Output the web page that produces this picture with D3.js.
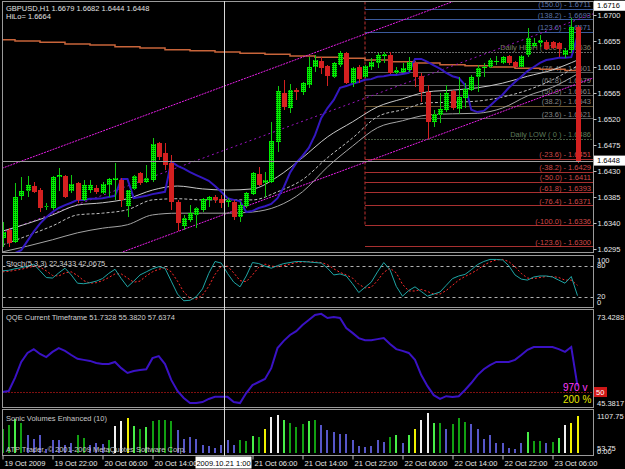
<!DOCTYPE html>
<html>
<head>
<meta charset="utf-8">
<script src="https://cdn.jsdelivr.net/npm/d3@7"></script>
<style>
html, body { margin: 0; padding: 0; background: #000; }
svg { display: block; }
</style>
</head>
<body>
<svg id="chart" width="625" height="469"></svg>
<script>
// GBPUSD H1, 19 Oct 14:00 -> 23 Oct 10:00 (93 bars)
const opens = [1.6314,1.6328,1.6307,1.6387,1.6395,1.6404,1.6397,1.6368,1.6366,1.6420,
  1.6421,1.6395,1.6409,1.6380,1.6397,1.6401,1.6392,1.6406,1.6415,1.6415,
  1.6369,1.6399,1.6427,1.6411,1.6415,1.6479,1.6461,1.6444,1.6376,1.6335,
  1.6345,1.6354,1.6363,1.6380,1.6385,1.6382,1.6376,1.6376,1.6350,1.6369,
  1.6390,1.6425,1.6409,1.6411,1.6480,1.6565,1.6539,1.6570,1.6567,1.6579,
  1.6610,1.6620,1.6612,1.6593,1.6613,1.6634,1.6582,1.6610,1.6593,1.6610,
  1.6617,1.6629,1.6631,1.6600,1.6601,1.6605,1.6617,1.6594,1.6567,1.6515,
  1.6527,1.6536,1.6568,1.6537,1.6556,1.6570,1.6593,1.6608,1.6610,1.6619,
  1.6617,1.6629,1.6619,1.6610,1.6631,1.6646,1.6652,1.6653,1.6653,1.6652,
  1.6631,1.6639,1.6679];
const highs = [1.6342,1.6331,1.6409,1.6420,1.6421,1.6411,1.6401,1.6375,1.6421,1.6435,
  1.6423,1.6423,1.6411,1.6415,1.6415,1.6406,1.6411,1.6418,1.6444,1.6418,
  1.6397,1.6423,1.6428,1.6440,1.6487,1.6480,1.6479,1.6458,1.6380,1.6354,
  1.6371,1.6368,1.6383,1.6387,1.6388,1.6388,1.6383,1.6380,1.6376,1.6394,
  1.6428,1.6437,1.6428,1.6515,1.6577,1.6588,1.6581,1.6574,1.6584,1.6627,
  1.6631,1.6627,1.6613,1.6619,1.6638,1.6636,1.6610,1.6613,1.6613,1.6626,
  1.6634,1.6636,1.6636,1.6610,1.6617,1.6627,1.6619,1.6600,1.6579,1.6536,
  1.6565,1.6579,1.6570,1.6593,1.6582,1.6596,1.6613,1.6617,1.6626,1.6629,
  1.6629,1.6631,1.6620,1.6631,1.6678,1.6660,1.6665,1.6657,1.6655,1.6653,
  1.6643,1.6695,1.6682];
const lows = [1.6299,1.6299,1.6305,1.6380,1.6385,1.6392,1.6359,1.6363,1.6363,1.6395,
  1.6383,1.6392,1.6375,1.6378,1.6392,1.6390,1.6390,1.6385,1.6380,1.6368,
  1.6350,1.6397,1.6406,1.6409,1.6411,1.6449,1.6432,1.6363,1.6326,1.6328,
  1.6342,1.6331,1.6359,1.6368,1.6375,1.6366,1.6368,1.6345,1.6342,1.6366,
  1.6388,1.6404,1.6385,1.6409,1.6463,1.6536,1.6530,1.6553,1.6562,1.6574,
  1.6601,1.6598,1.6577,1.6591,1.6610,1.6581,1.6575,1.6582,1.6591,1.6605,
  1.6608,1.6617,1.6598,1.6598,1.6600,1.6601,1.6575,1.6549,1.6486,1.6506,
  1.6513,1.6532,1.6536,1.6529,1.6539,1.6568,1.6567,1.6593,1.6608,1.6613,
  1.6615,1.6613,1.6610,1.6610,1.6627,1.6645,1.6645,1.6639,1.6641,1.6627,
  1.6626,1.6634,1.6444];
const closes = [1.6325,1.6305,1.6385,1.6395,1.6406,1.6394,1.6366,1.6369,1.6420,1.6423,
  1.6385,1.6408,1.6380,1.6406,1.6406,1.6394,1.6408,1.6416,1.6418,1.6380,
  1.6397,1.6421,1.6409,1.6418,1.6477,1.6454,1.6440,1.6376,1.6340,1.6349,
  1.6357,1.6366,1.6382,1.6385,1.6380,1.6375,1.6380,1.6350,1.6371,1.6392,
  1.6427,1.6406,1.6415,1.6482,1.6568,1.6541,1.6570,1.6567,1.6582,1.6610,
  1.6622,1.6608,1.6594,1.6617,1.6634,1.6582,1.6608,1.6589,1.6612,1.6619,
  1.6631,1.6633,1.6600,1.6605,1.6608,1.6619,1.6593,1.6567,1.6515,1.6529,
  1.6537,1.6565,1.6539,1.6558,1.6572,1.6593,1.6608,1.6610,1.6622,1.6620,
  1.6627,1.6617,1.6610,1.6629,1.6660,1.6652,1.6657,1.6641,1.6643,1.6641,
  1.6639,1.6679,1.6448];

// HiLo line (blue)
const hilo = [1.6267,1.6276,1.6288,1.6293,1.6309,1.6325,1.6339,1.6350,1.6359,1.6366,
  1.6371,1.6375,1.6380,1.6380,1.6382,1.6382,1.6383,1.6385,1.6387,1.6416,
  1.6416,1.6383,1.6385,1.6387,1.6390,1.6392,1.6394,1.6446,1.6439,1.6434,
  1.6428,1.6423,1.6418,1.6413,1.6404,1.6394,1.6383,1.6380,1.6378,1.6359,
  1.6361,1.6366,1.6369,1.6373,1.6383,1.6402,1.6427,1.6444,1.6456,1.6470,
  1.6492,1.6522,1.6539,1.6553,1.6574,1.6577,1.6581,1.6584,1.6588,1.6589,
  1.6593,1.6594,1.6596,1.6596,1.6598,1.6600,1.6624,1.6624,1.6619,1.6613,
  1.6607,1.6600,1.6594,1.6591,1.6579,1.6536,1.6532,1.6534,1.6543,1.6553,
  1.6562,1.6574,1.6584,1.6593,1.6603,1.6610,1.6617,1.6622,1.6624,1.6626,
  1.6626,1.6627,1.6664];

// envelopes and slow orange line, read every 4 bars
const envIdx = [0,4,8,12,16,20,24,28,32,36,40,44,48,52,56,60,64,68,72,76,80,84,88,92];
const envUpper = [1.6326,1.6339,1.6354,1.6371,1.6375,1.6382,1.6397,1.6404,1.6399,1.6397,1.6399,1.6420,
  1.6453,1.6489,1.6515,1.6541,1.6555,1.6567,1.6570,1.6574,1.6582,1.6594,1.6605,1.6622];
const envMid = [1.6302,1.6318,1.6335,1.6354,1.6357,1.6363,1.6380,1.6382,1.6380,1.6380,1.6380,1.6394,
  1.6415,1.6453,1.6487,1.6524,1.6536,1.6548,1.6549,1.6551,1.6558,1.6570,1.6588,1.6612];
const envLower = [1.6290,1.6300,1.6311,1.6323,1.6331,1.6337,1.6354,1.6357,1.6357,1.6357,1.6359,1.6369,
  1.6394,1.6437,1.6473,1.6505,1.6517,1.6527,1.6529,1.6530,1.6539,1.6560,1.6575,1.6598];
const slowLine = [1.6657,1.6655,1.6653,1.6650,1.6648,1.6645,1.6643,1.6640,1.6638,1.6636,1.6634,1.6632,
  1.6629,1.6627,1.6625,1.6622,1.6619,1.6617,1.6614,1.6612,1.6610,1.6608,1.6606,1.6604];

// regression channel
const chanIdx = [0, 92];
const chanMid = [1.6324, 1.6692];
const chanHalf = 0.0111;

// daily fibonacci levels (drawn from 22 Oct 00:00)
const fibStart = 58;
const fibNames = ["(150.0)","(138.2)","(123.6)","Daily HIGH ( 100 )","(76.4)","(61.8)","(50.0)","(38.2)","(23.6)",
  "Daily LOW ( 0 )","(-23.6)","(-38.2)","(-50.0)","(-61.8)","(-76.4)","(-100.0)","(-123.6)","(-138.2)"];
const fibPrices = [1.6711,1.6693,1.6671,1.6636,1.6601,1.6579,1.6561,1.6543,1.6521,
  1.6486,1.6451,1.6429,1.6411,1.6393,1.6371,1.6336,1.6300,1.6279];
const fibKinds = ["ext","ext","ext","hi","pos","pos","pos","pos2","pos","lo","neg","neg","neg","neg","neg","neg","neg","neg"];

// Stochastic (5,3,3)
const stochK = [70,71,74,76,79,83,70,57,56,66,75,62,46,45,47,50,55,65,73,55,
  39,50,62,68,74,78,75,50,25,12,13,20,35,65,88,85,65,48,39,60,
  86,84,79,75,80,84,86,88,88,87,86,85,75,62,64,60,45,28,38,48,
  68,86,72,40,21,32,39,30,21,25,29,42,55,60,63,72,82,88,92,92,
  91,80,62,54,52,58,60,60,58,52,46,59,22];
const stochD = [68,69,71,73,76,79,77,70,61,60,66,68,61,51,46,47,51,57,64,64,
  56,48,50,60,68,73,76,68,50,29,17,15,23,40,63,79,79,66,51,49,
  62,77,83,79,78,80,83,86,87,88,87,86,82,74,67,62,56,44,37,38,
  51,67,75,66,44,31,31,34,30,25,25,32,42,52,59,65,72,81,87,91,
  92,88,78,65,56,55,57,59,59,57,52,52,42];
const stochLevels = [80, 20];
const stochLabels = [100, 80, 20, 0];

// QQE
const qqe = [50.0,50.3,54.1,58.7,61.3,62.4,61.0,60.1,61.6,62.7,61.9,60.7,59.6,59.3,59.0,58.4,58.1,58.1,58.7,56.9,
  55.5,56.1,56.4,56.6,59.8,60.4,58.1,53.5,50.3,48.3,46.8,46.8,47.1,48.0,48.6,48.6,48.6,47.1,46.8,49.7,
  52.0,52.9,53.8,56.9,62.7,64.8,66.5,67.6,69.4,70.8,72.3,72.6,71.4,71.7,71.4,68.5,67.1,65.6,65.0,65.0,
  65.3,65.6,63.9,62.4,61.9,61.3,59.3,54.9,51.7,49.1,48.0,48.8,48.6,48.8,50.6,52.6,54.9,56.6,57.8,58.7,
  58.7,58.7,59.3,60.7,62.2,63.0,63.0,63.0,63.0,62.4,61.6,63.0,51.7];
const qqeRange = [45.3817, 73.4288];
const qqeLevel = 50;

// Sonic volumes
const volumes = [620,735,886,779,469,381,469,115,337,337,204,266,469,407,204,266,248,354,708,850,
  912,708,620,691,841,868,868,841,602,381,425,381,204,177,142,204,337,204,354,319,
  443,425,620,956,1001,868,779,691,762,850,868,735,602,558,496,496,337,186,159,177,
  337,292,425,469,266,469,629,868,1063,779,779,620,762,912,824,753,646,381,469,266,
  266,142,115,266,558,319,319,266,292,407,735,797,974];
const volKinds = "ggGgbbbbbbbbggbbbgwwyGgGggggbbbbbbbbbbggGgywwGgggGgbbbbbbbbbbbgGbGywwGgbgggbbbbbbbbbGggbgGwyy";
const volMax = 1107.75;

const priceTicks = [1.6700,1.6655,1.6610,1.6565,1.6520,1.6475,1.6430,1.6385,1.6340,1.6295];
// 20 Oct 22:00 sits under the crosshair date box, so it is not listed
const timeIdx = [0,8,16,24,40,48,56,64,72,80,88];
const timeLabels = ["19 Oct 2009","19 Oct 22:00","20 Oct 06:00","20 Oct 14:00","21 Oct 06:00",
  "21 Oct 14:00","21 Oct 22:00","22 Oct 06:00","22 Oct 14:00","22 Oct 22:00","23 Oct 06:00"];
const crossIdx = 35.5, crossLabel = "2009.10.21 1:00";
const bid = 1.6448, markPrice = 1.6716;

const FONT = "'Liberation Sans', Arial, sans-serif";
const FS = 7.5;
const plotL = 2.5, plotR = 593.5;
const panels = [{top: 1.5, bot: 252.5}, {top: 255.5, bot: 307.5}, {top: 309.5, bot: 407.5}, {top: 409.5, bot: 455.5}];

// scales
const x = d3.scaleLinear().domain([0, 92]).range([2.5, 577.5]);
const yP = d3.scaleLinear().domain([1.6295, 1.6700]).range([249, 15]);
const yS = d3.scaleLinear().domain([0, 100]).range([307, 255.3]);
const yQ = d3.scaleLinear().domain(qqeRange).range([408, 311]);
const yV = d3.scaleLinear().domain([0, volMax]).range([453, 411]);

const svg = d3.select("#chart");
svg.append("rect").attr("width", 625).attr("height", 469).attr("fill", "#000");
const defs = svg.append("defs");
panels.forEach((p, k) => {
  defs.append("clipPath").attr("id", "clip" + k).append("rect")
    .attr("x", plotL).attr("y", p.top).attr("width", plotR - plotL).attr("height", p.bot - p.top);
});
const pat = defs.append("pattern").attr("id", "gdots").attr("width", 2).attr("height", 2)
  .attr("patternUnits", "userSpaceOnUse");
pat.append("rect").attr("width", 2).attr("height", 2).attr("fill", "#00f000");
pat.append("rect").attr("width", 1).attr("height", 1).attr("fill", "#005000");

function label(sel, tx, ty, txt, color, size) {
  return sel.append("text").attr("x", tx).attr("y", ty)
    .attr("font-family", FONT).attr("font-size", size || FS)
    .attr("fill", color).text(txt);
}

// ---------- main panel ----------
const gm = svg.append("g").attr("clip-path", "url(#clip0)");

const fibLine = {ext: "#3b5a9c", hi: "#6a6a6a", pos: "#5e5e5e", pos2: "#6a5632", lo: "#44583f", neg: "#a83030"};
const fibText = {ext: "#5c74aa", hi: "#7c7c62", pos: "#858585", pos2: "#858585", lo: "#5e7a5a", neg: "#d04848"};

gm.append("line")
  .attr("x1", x(fibStart)).attr("x2", x(fibStart))
  .attr("y1", panels[0].top).attr("y2", yP(fibPrices[15]))
  .attr("stroke", "#c03030").attr("stroke-dasharray", "3,2");

gm.selectAll(".fib").data(fibPrices).join("line")
  .attr("x1", x(fibStart)).attr("x2", plotR)
  .attr("y1", d => Math.round(yP(d)) + 0.5).attr("y2", d => Math.round(yP(d)) + 0.5)
  .attr("stroke", (d, k) => fibLine[fibKinds[k]])
  .attr("stroke-dasharray", (d, k) => (fibKinds[k] === "hi" || fibKinds[k] === "lo") ? "2,1" : null);

gm.selectAll(".fibt").data(fibPrices).join("text")
  .attr("x", 591).attr("y", d => yP(d) - 1.5)
  .attr("text-anchor", "end").attr("font-family", FONT).attr("font-size", FS)
  .attr("fill", (d, k) => fibText[fibKinds[k]])
  .text((d, k) => fibNames[k] + " - " + d.toFixed(4));

// slow orange line
gm.append("path")
  .datum(envIdx.map((d, k) => [d, slowLine[k]]).concat([[94.5, slowLine[slowLine.length - 1]]]))
  .attr("fill", "none").attr("stroke", "#c8643a").attr("stroke-width", 1.5)
  .attr("d", d3.line().x(d => x(d[0] - 2)).y(d => yP(d[1])).curve(d3.curveStepAfter));

// regression channel
const chan = d3.scaleLinear().domain(chanIdx).range(chanMid);
[[chanHalf, "#e81ee8", "2,1"], [0, "#9a14c0", "2,3"], [-chanHalf, "#e81ee8", "2,1"]].forEach(c => {
  gm.append("line")
    .attr("x1", x(-1)).attr("y1", yP(chan(-1) + c[0]))
    .attr("x2", x(95)).attr("y2", yP(chan(95) + c[0]))
    .attr("stroke", c[1]).attr("stroke-dasharray", c[2]);
});

// envelopes
[[envUpper, "#c8c8c8", null], [envMid, "#c0c0c0", "3,2"], [envLower, "#a4a4a4", null]].forEach(e => {
  gm.append("path")
    .datum(envIdx.map((d, k) => [d, e[0][k]]))
    .attr("fill", "none").attr("stroke", e[1]).attr("stroke-dasharray", e[2])
    .attr("d", d3.line().x(d => x(d[0])).y(d => yP(d[1])).curve(d3.curveMonotoneX));
});

// HiLo line
gm.append("path")
  .datum(hilo)
  .attr("fill", "none").attr("stroke", "#3418c0").attr("stroke-width", 2)
  .attr("d", d3.line().x((d, i) => x(i)).y(d => yP(d)));

// candles
const bars = d3.range(opens.length).map(i => ({i, o: opens[i], h: highs[i], l: lows[i], c: closes[i]}));
const cg = gm.append("g").attr("shape-rendering", "crispEdges");
cg.selectAll(".wick").data(bars).join("line")
  .attr("x1", d => Math.round(x(d.i)) + 0.5).attr("x2", d => Math.round(x(d.i)) + 0.5)
  .attr("y1", d => yP(d.h)).attr("y2", d => yP(d.l))
  .attr("stroke", d => d.c >= d.o ? "#10c810" : "#d42020");
cg.selectAll(".body").data(bars).join("rect")
  .attr("x", d => Math.round(x(d.i)) - 2).attr("width", 5)
  .attr("y", d => yP(Math.max(d.o, d.c)))
  .attr("height", d => Math.max(1, Math.abs(yP(d.o) - yP(d.c))))
  .attr("fill", d => d.c >= d.o ? "url(#gdots)" : "#d42020");

// bid line
gm.append("line").attr("x1", plotL).attr("x2", plotR)
  .attr("y1", Math.round(yP(bid)) + 0.5).attr("y2", Math.round(yP(bid)) + 0.5)
  .attr("stroke", "#a0a0a0");

label(svg, 6, 10.5, "GBPUSD,H1  " + [opens[92], highs[92], lows[92], closes[92]].map(d => d.toFixed(4)).join(" "), "#e0e0e0");
label(svg, 6, 18.5, "HiLo= " + hilo[92].toFixed(4), "#e0e0e0");

// ---------- stochastic ----------
const gs = svg.append("g").attr("clip-path", "url(#clip1)");
gs.selectAll(".lvl").data(stochLevels).join("line")
  .attr("x1", plotL).attr("x2", plotR)
  .attr("y1", d => Math.round(yS(d)) + 0.5).attr("y2", d => Math.round(yS(d)) + 0.5)
  .attr("stroke", "#b0b0b0").attr("stroke-dasharray", "3,3");
gs.append("path").datum(stochD)
  .attr("fill", "none").attr("stroke", "#ff2a2a").attr("stroke-dasharray", "2,2")
  .attr("d", d3.line().x((d, i) => x(i)).y(d => yS(d)));
gs.append("path").datum(stochK)
  .attr("fill", "none").attr("stroke", "#1fa5a5")
  .attr("d", d3.line().x((d, i) => x(i)).y(d => yS(d)));
label(svg, 6, 265.5, "Stoch(5,3,3) 22.3433 42.0675", "#d0d0d0");

// ---------- QQE ----------
const gq = svg.append("g").attr("clip-path", "url(#clip2)");
gq.append("line").attr("x1", plotL).attr("x2", plotR)
  .attr("y1", Math.round(yQ(qqeLevel)) + 0.5).attr("y2", Math.round(yQ(qqeLevel)) + 0.5)
  .attr("stroke", "#ff2020").attr("stroke-dasharray", "1,2");
gq.append("path").datum(qqe)
  .attr("fill", "none").attr("stroke", "#3a12c4").attr("stroke-width", 2)
  .attr("d", d3.line().x((d, i) => x(i)).y(d => yQ(d)));
label(svg, 6, 319.5, "QQE Current Timeframe 51.7328 55.3820 57.6374", "#d0d0d0");
label(svg, 563, 391, "970 v", "#ff3cff", 10);
label(svg, 563, 402.5, "200 %", "#e6e600", 10);

// ---------- volumes ----------
const volColor = {g: "#12a012", G: "#48ee48", b: "#5656c8", w: "#f0f0f0", y: "#f0f000"};
const gv = svg.append("g").attr("clip-path", "url(#clip3)").attr("shape-rendering", "crispEdges");
gv.selectAll("rect").data(volumes).join("rect")
  .attr("x", (d, i) => Math.round(x(i)) - 1).attr("width", 2)
  .attr("y", d => yV(d)).attr("height", d => yV(0) - yV(d))
  .attr("fill", (d, i) => volColor[volKinds[i]]);
label(svg, 6, 420.5, "Sonic Volumes Enhanced  (10)", "#c8c8c8");
label(svg, 6, 451.5, "ATP Trader, \u00a9 2001-2009 MetaQuotes Software Corp.", "#c8c8c8");

// ---------- frames ----------
svg.append("g").selectAll("rect").data(panels).join("rect")
  .attr("x", plotL).attr("y", d => d.top).attr("width", plotR - plotL).attr("height", d => d.bot - d.top)
  .attr("fill", "none").attr("stroke", "#9a9a9a");

// ---------- right axes ----------
function styleAxis(g) {
  g.attr("font-family", FONT).attr("font-size", FS);
  g.select(".domain").remove();
  g.selectAll("line").attr("stroke", "#c0c0c0");
  g.selectAll("text").attr("fill", "#e8e8e8");
}
svg.append("g").attr("transform", "translate(" + plotR + ",0)")
  .call(d3.axisRight(yP).tickValues(priceTicks).tickFormat(d3.format(".4f")).tickSize(3).tickPadding(1))
  .call(styleAxis);

function sideLabel(txt, cy, color) {
  label(svg, 597, cy + 2.7, txt, color || "#e8e8e8");
}
stochLabels.forEach(v => sideLabel(String(v), Math.min(302, Math.max(260.5, yS(v)))));
qqeRange.slice().reverse().forEach(v => sideLabel(v.toFixed(4), Math.min(403, Math.max(317, yQ(v)))));
sideLabel(volMax.toFixed(2), 416);
sideLabel("53.75", 448.5);
sideLabel("0.00", 451.5);

// price boxes
[markPrice, bid].forEach(p => {
  const cy = Math.max(5, yP(p));
  svg.append("rect").attr("x", 594).attr("y", cy - 5).attr("width", 31).attr("height", 10).attr("fill", "#fff");
  label(svg, 597, cy + 2.7, p.toFixed(4), "#000");
});
svg.append("rect").attr("x", 594).attr("y", yQ(qqeLevel) - 5).attr("width", 13).attr("height", 10).attr("fill", "#d01818");
label(svg, 596, yQ(qqeLevel) + 2.7, String(qqeLevel), "#ffffff");

// ---------- time axis ----------
const ta = svg.append("g").attr("transform", "translate(0," + panels[3].bot + ")")
  .call(d3.axisBottom(x).tickValues(timeIdx).tickFormat((d, i) => timeLabels[i]).tickSize(4).tickPadding(1))
  .call(styleAxis);
ta.selectAll("text").attr("text-anchor", "start").attr("dx", 1.5);

// crosshair
const cx = Math.round(x(crossIdx)) + 0.5;
svg.append("line").attr("x1", cx).attr("x2", cx).attr("y1", 1).attr("y2", 456)
  .attr("stroke", "#d8d8d8");
svg.append("rect").attr("x", cx - 29).attr("y", 456.5).attr("width", 56).attr("height", 12).attr("fill", "#fff");
label(svg, cx - 1, 465.5, crossLabel, "#000").attr("text-anchor", "middle");
</script>
</body>
</html>
